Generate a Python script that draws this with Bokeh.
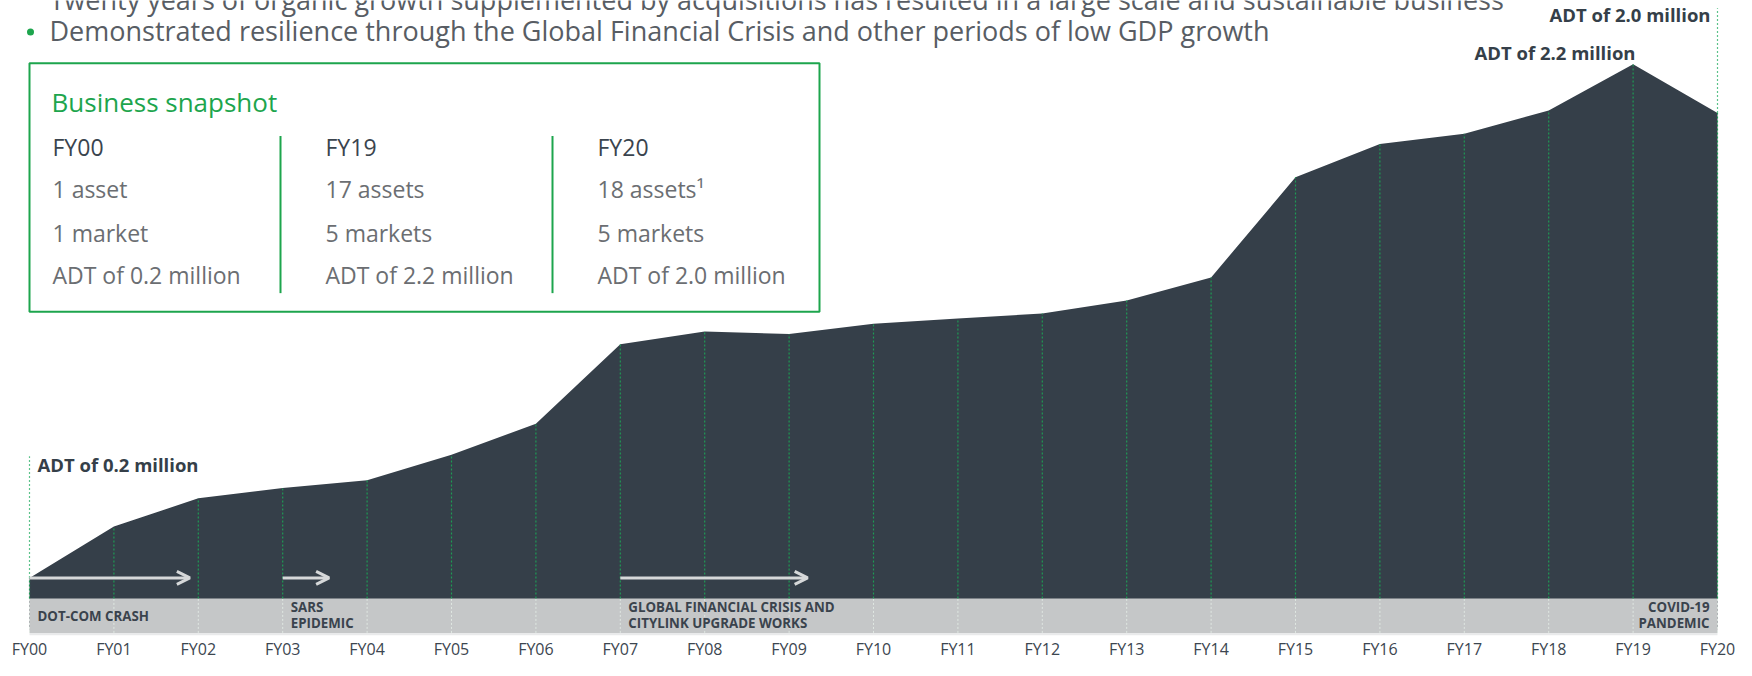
from bokeh.plotting import figure
from bokeh.models import Range1d, ColumnDataSource, Arrow, OpenHead
from bokeh.core.properties import value
from bokeh.embed import file_html
from bokeh.resources import INLINE

# ---------------- data ----------------
years = ["FY00", "FY01", "FY02", "FY03", "FY04", "FY05", "FY06", "FY07", "FY08", "FY09", "FY10",
         "FY11", "FY12", "FY13", "FY14", "FY15", "FY16", "FY17", "FY18", "FY19", "FY20"]
adt_million = [0.20, 0.40, 0.51, 0.55, 0.58, 0.68, 0.80, 1.11, 1.16, 1.15, 1.19,
               1.21, 1.23, 1.28, 1.37, 1.76, 1.89, 1.93, 2.02, 2.20, 2.01]

event_lines = [["DOT-COM CRASH"], ["SARS", "EPIDEMIC"],
               ["GLOBAL FINANCIAL CRISIS AND", "CITYLINK UPGRADE WORKS"], ["COVID-19", "PANDEMIC"]]
event_start = [0, 3, 7, 20]
arrow_start = [0, 3, 7]
arrow_end = [1.9, 3.55, 9.22]

snap_title = "Business snapshot"
snap_years = ["FY00", "FY19", "FY20"]
snap_assets = ["1 asset", "17 assets", "18 assets\u00b9"]
snap_markets = ["1 market", "5 markets", "5 markets"]
snap_adt = ["ADT of 0.2 million", "ADT of 2.2 million", "ADT of 2.0 million"]

bullets = ["Twenty years of organic growth supplemented by acquisitions has resulted in a large scale and sustainable business",
           "Demonstrated resilience through the Global Financial Crisis and other periods of low GDP growth"]

# ---------------- layout helpers (reference pixel -> data units) ----------------
X0, PXY = 29.0, 84.4      # x pixel of FY00, pixels per year
Y0, PXM = 640.3, 261.5    # y pixel of zero, pixels per million
W, H = 1736, 660
YS = 0.982                # slight vertical squeeze so the year labels fit


def X(px):
    return (px - X0) / PXY


def Y(py):
    return (Y0 - py) / PXM


DARK = "#353f49"
GREEN = "#1da54d"
GREY_TXT = "#6b6e72"
FONT = value("Open Sans")

idx = list(range(len(years)))

p = figure(width=W, height=H, output_backend="svg", toolbar_location=None,
           x_range=Range1d(X(0), X(W)), y_range=Range1d(Y(H / YS), Y(0)),
           x_axis_location=None, y_axis_location=None,
           min_border_left=0, min_border_right=0, min_border_top=0, min_border_bottom=0)
p.outline_line_color = None
p.grid.visible = False
p.background_fill_color = "white"
p.border_fill_color = "white"

src = ColumnDataSource(dict(x=idx, y=adt_million, label=years))

# area
p.varea(x="x", y1=0, y2="y", source=src, fill_color=DARK)

# grey event band
band_bottom, band_top = Y(644), Y(609)
p.quad(left=idx[0], right=idx[-1], bottom=band_bottom, top=band_top,
       fill_color="#c5c7c8", line_color=None)
p.quad(left=idx[0], right=idx[-1], bottom=Y(646.5), top=band_bottom,
       fill_color="#e9eaeb", line_color=None)

# vertical dotted guides
p.segment(x0="x", y0=band_top, x1="x", y1="y", source=src,
          line_color="#1f9a55", line_dash="2 2", line_width=1.2)
p.segment(x0="x", y0=band_bottom, x1="x", y1=band_top, source=src,
          line_color="#dfe7e2", line_dash="2 2", line_width=1)
p.segment(x0=[idx[0], idx[-1]], y0=[adt_million[0], adt_million[-1]],
          x1=[idx[0], idx[-1]], y1=[Y(464), Y(8)],
          line_color="#5cc38a", line_dash="2 2", line_width=1.2)

# year labels (category axis)
p.text(x="x", y=Y(648 / YS), text="label", source=src, text_align="center", text_baseline="middle",
       text_font=FONT, text_font_size="16px", text_color="#3c4650")

# arrows
for xs, xe in zip(arrow_start, arrow_end):
    p.add_layout(Arrow(end=OpenHead(size=13, line_color="#d6d8d9", line_width=3),
                       x_start=xs, y_start=Y(588), x_end=xe, y_end=Y(588),
                       line_color="#d6d8d9", line_width=3))

# event labels
ev_x, ev_y, ev_t, ev_a = [], [], [], []
for lines, xs in zip(event_lines, event_start):
    right = xs == idx[-1]
    ys = [Y(627)] if len(lines) == 1 else [Y(618), Y(634)]
    for t, yy in zip(lines, ys):
        ev_x.append(xs - 8 / PXY if right else xs + 8 / PXY)
        ev_y.append(yy)
        ev_t.append(t)
        ev_a.append("right" if right else "left")
p.text(x=ev_x, y=ev_y, text=ev_t, text_align=ev_a, text_baseline="middle",
       text_font=FONT, text_font_style="bold", text_font_size="13.3px", text_color="#3a434d")

# ADT callouts
call_i = [0, 19, 20]
call_x = [X(37), X(1635), X(1710)]
call_y = [Y(473), Y(53), Y(14)]
call_t = [f"ADT of {adt_million[i]:.1f} million" for i in call_i]
call_a = ["left", "right", "right"]
p.text(x=call_x, y=call_y, text=call_t, text_align=call_a, text_baseline="middle",
       text_font=FONT, text_font_style="bold", text_font_size="18.5px", text_color=DARK)

# header bullets (first line clipped by top edge, as in the source page)
p.scatter(x=[X(30)], y=[Y(32)], size=7, marker="circle", fill_color=GREEN, line_color=None)
p.text(x=[X(49), X(49)], y=[Y(-1.5), Y(31)], text=bullets, text_baseline="alphabetic",
       text_font=FONT, text_font_size="27px", text_color="#585d64")

# snapshot box
p.quad(left=X(29), right=X(819), top=Y(64), bottom=Y(317), fill_color="white",
       line_color=GREEN, line_width=2)
p.segment(x0=[X(280), X(552)], y0=[Y(138)] * 2, x1=[X(280), X(552)], y1=[Y(298)] * 2,
          line_color=GREEN, line_width=2)
p.text(x=[X(51)], y=[Y(103)], text=[snap_title], text_baseline="middle",
       text_font=FONT, text_font_size="26px", text_color=GREEN)
col_x = [X(52), X(325), X(597)]
p.text(x=col_x, y=[Y(149)] * 3, text=snap_years, text_baseline="middle",
       text_font=FONT, text_font_size="23px", text_color="#3a444e")
for rows, py in ((snap_assets, 192), (snap_markets, 237), (snap_adt, 280)):
    p.text(x=col_x, y=[Y(py)] * 3, text=rows, text_baseline="middle",
           text_font=FONT, text_font_size="23px", text_color=GREY_TXT)

open("out.html", "w").write(file_html(p, INLINE))
